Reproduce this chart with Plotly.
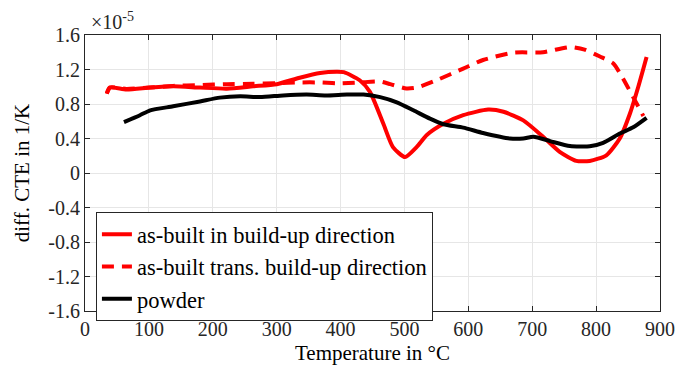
import plotly.graph_objects as go

# Differential CTE (in units of 1e-5 1/K) versus temperature
t_build = [34, 39, 65, 102, 138, 180, 222, 263, 300, 336, 368, 394, 405, 430, 446, 467, 482,
           501, 519, 535, 561, 592, 631, 655, 686, 717, 743, 769, 790, 816, 837, 853, 866, 879]
cte_build = [0.92, 0.99, 0.967, 0.99, 1.005, 0.99, 0.978, 1.005, 1.03, 1.105, 1.16, 1.175, 1.17,
             1.075, 0.94, 0.57, 0.30, 0.185, 0.30, 0.44, 0.57, 0.67, 0.735, 0.71, 0.61, 0.42,
             0.245, 0.14, 0.14, 0.205, 0.40, 0.69, 1.00, 1.345]

t_trans = [34, 39, 65, 102, 138, 180, 222, 263, 300, 336, 368, 394, 430, 462, 478, 503, 519,
           550, 592, 623, 670, 717, 759, 782, 806, 827, 842, 858, 874]
cte_trans = [0.92, 0.99, 0.975, 0.99, 1.01, 1.02, 1.03, 1.035, 1.04, 1.05, 1.05, 1.04, 1.05,
             1.06, 1.03, 0.98, 0.99, 1.075, 1.21, 1.31, 1.395, 1.40, 1.46, 1.43, 1.35, 1.27,
             1.095, 0.88, 0.66]

t_powder = [61, 86, 102, 138, 180, 211, 243, 274, 310, 347, 377, 410, 436, 462, 488, 514, 540,
            561, 592, 623, 665, 686, 702, 728, 759, 790, 811, 837, 858, 879]
cte_powder = [0.59, 0.67, 0.727, 0.773, 0.83, 0.874, 0.89, 0.88, 0.90, 0.91, 0.90, 0.91, 0.91,
              0.88, 0.82, 0.727, 0.63, 0.565, 0.526, 0.464, 0.40, 0.40, 0.42, 0.37, 0.313,
              0.31, 0.35, 0.457, 0.53, 0.64]

x_ticks = [0, 100, 200, 300, 400, 500, 600, 700, 800, 900]
y_ticks = [-1.6, -1.2, -0.8, -0.4, 0, 0.4, 0.8, 1.2, 1.6]
y_tick_text = ["-1.6", "-1.2", "-0.8", "-0.4", "0", "0.4", "0.8", "1.2", "1.6"]

serif = "Liberation Serif"

fig = go.Figure()
fig.add_trace(go.Scatter(x=t_build, y=cte_build, mode="lines", name="as-built in build-up direction",
                         line=dict(color="#ff0000", width=4, shape="spline", smoothing=0.6)))
fig.add_trace(go.Scatter(x=t_trans, y=cte_trans, mode="lines", name="as-built trans. build-up direction",
                         line=dict(color="#ff0000", width=4, dash="12px,8px", shape="spline", smoothing=0.6)))
fig.add_trace(go.Scatter(x=t_powder, y=cte_powder, mode="lines", name="powder",
                         line=dict(color="#000000", width=4, shape="spline", smoothing=0.6)))

axis_common = dict(
    showline=True, linecolor="#262626", linewidth=1, mirror="ticks",
    ticks="inside", ticklen=5, tickcolor="#262626",
    showgrid=True, gridcolor="#e6e6e6", gridwidth=1, zeroline=False,
    tickfont=dict(family=serif, size=20, color="#262626"),
)

fig.update_layout(
    width=688, height=372,
    margin=dict(l=85, r=28, t=35, b=61),
    paper_bgcolor="white", plot_bgcolor="white",
    showlegend=True,
    legend=dict(x=0.019, y=0.358, xanchor="left", yanchor="top",
                bgcolor="white", bordercolor="#262626", borderwidth=1,
                font=dict(family=serif, size=22.5, color="black"),
                tracegroupgap=0, itemwidth=30),
    xaxis=dict(range=[0, 900], tickvals=x_ticks,
               title=dict(text="Temperature in °C", font=dict(family=serif, size=21, color="black"),
                          standoff=6),
               **axis_common),
    yaxis=dict(range=[-1.6, 1.6], tickvals=y_ticks, ticktext=y_tick_text,
               title=dict(text="diff. CTE in 1/K", font=dict(family=serif, size=21, color="black"),
                          standoff=12),
               **axis_common),
    annotations=[dict(text="×10<sup>-5</sup>", xref="paper", yref="paper", x=0.0, y=1.0,
                      xanchor="left", yanchor="bottom", showarrow=False, xshift=4,
                      font=dict(family=serif, size=20, color="#262626"))],
)

fig.write_html("out.html")
